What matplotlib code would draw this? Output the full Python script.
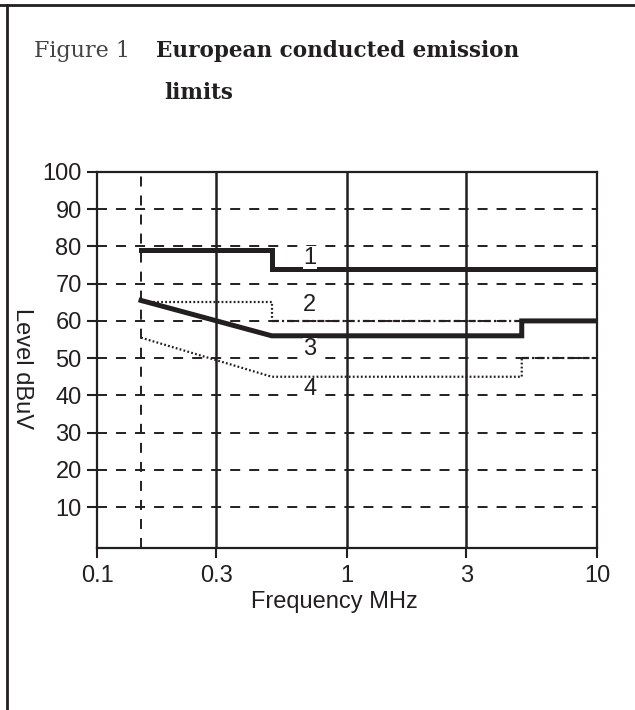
import matplotlib
matplotlib.use("Agg")
import matplotlib.pyplot as plt
from matplotlib.lines import Line2D

# limit lines (frequency in MHz, level in dBuV)
freq_1 = [0.15, 0.5, 0.5, 10]
level_1 = [79, 79, 74, 74]

freq_2_dot = [0.15, 0.5, 0.5]
level_2_dot = [65, 65, 60]
freq_2_dashdot = [0.5, 10]
level_2_dashdot = [60, 60]

freq_3 = [0.15, 0.5, 5, 5, 10]
level_3 = [65.5, 56, 56, 60, 60]

freq_4_dot = [0.15, 0.5, 5, 5]
level_4_dot = [55.5, 45, 45, 50]
freq_4_dashdot = [5, 10]
level_4_dashdot = [50, 50]

# curve numbers and where they sit
label_text = ["1", "2", "3", "4"]
label_freq = [0.71, 0.71, 0.71, 0.71]
label_level = [77, 64.4, 52.4, 41.6]

x_ticks = [0.1, 0.3, 1, 3, 10]
x_tick_labels = ["0.1", "0.3", "1", "3", "10"]
y_ticks = [10, 20, 30, 40, 50, 60, 70, 80, 90, 100]
grid_levels = [10, 20, 30, 40, 50, 60, 70, 80, 90]
grid_freq_solid = [0.3, 1, 3]
grid_freq_dashed = [0.15]

INK = "#231f20"
FS = 17
plt.rcParams["lines.scale_dashes"] = False
plt.rcParams["font.family"] = ["Liberation Sans", "DejaVu Sans"]

fig = plt.figure(figsize=(6.35, 7.1), dpi=100)
ax = fig.add_axes([97 / 635, 1 - 548 / 710, 500 / 635, 376 / 710])

dash = (0, (7.2, 6.5))
for y in grid_levels:
    ax.axhline(y, color=INK, lw=1.4, linestyle=dash, zorder=1)
for x in grid_freq_solid:
    ax.axvline(x, color=INK, lw=1.8, zorder=1)
for x in grid_freq_dashed:
    ax.axvline(x, color=INK, lw=1.4, linestyle=dash, zorder=1)

dotted = (0, (1.3, 1.6))
dashdot = (0, (5, 2.2, 1.5, 2.2))
ax.plot(freq_1, level_1, color=INK, lw=3.6, solid_joinstyle="miter", zorder=3)
ax.plot(freq_2_dot, level_2_dot, color=INK, lw=1.6, linestyle=dotted, zorder=2)
ax.plot(freq_2_dashdot, level_2_dashdot, color=INK, lw=1.6, linestyle=dashdot, zorder=2)
ax.plot(freq_3, level_3, color=INK, lw=3.6, solid_joinstyle="miter", zorder=3)
ax.plot(freq_4_dot, level_4_dot, color=INK, lw=1.6, linestyle=dotted, zorder=2)
ax.plot(freq_4_dashdot, level_4_dashdot, color=INK, lw=1.6, linestyle=dashdot, zorder=2)

for t, fx, ly in zip(label_text, label_freq, label_level):
    ax.text(fx, ly, t, fontsize=FS, color=INK, ha="center", va="center", zorder=4,
            bbox=dict(facecolor="white", edgecolor="none", pad=0.3))

ax.set_xscale("log")
ax.set_xlim(0.1, 10)
ax.set_ylim(-1, 100)
ax.set_xticks(x_ticks)
ax.set_xticklabels(x_tick_labels)
ax.xaxis.set_minor_locator(matplotlib.ticker.NullLocator())
ax.set_yticks(y_ticks)
ax.tick_params(axis="both", direction="out", length=7, width=1.5, color=INK,
               labelsize=FS, labelcolor=INK)
ax.tick_params(axis="x", pad=5)
ax.tick_params(axis="y", pad=4)
for s in ax.spines.values():
    s.set_color(INK)
    s.set_linewidth(1.6)

fig.text(334 / 635, 1 - 602 / 710, "Frequency MHz", fontsize=FS, color=INK,
         ha="center", va="center")
fig.text(22 / 635, 1 - 368 / 710, "Level dBuV", rotation=-90, fontsize=FS, color=INK,
         ha="center", va="center")

# title block
fig.text(34 / 635, 1 - 57 / 710, "Figure 1", family="DejaVu Serif", fontsize=16,
         color="#444444", va="baseline")
fig.text(156 / 635, 1 - 57 / 710, "European conducted emission", family="DejaVu Serif",
         fontsize=15.5, fontweight="bold", color=INK, va="baseline")
fig.text(164 / 635, 1 - 99 / 710, "limits", family="DejaVu Serif",
         fontsize=15.5, fontweight="bold", color=INK, va="baseline")

# frame on top and left
fig.add_artist(Line2D([0, 1], [1 - 5 / 710, 1 - 5 / 710], color=INK, lw=2,
                      transform=fig.transFigure))
fig.add_artist(Line2D([7 / 635, 7 / 635], [0, 1 - 5 / 710], color=INK, lw=2,
                      transform=fig.transFigure))

fig.savefig("out.png", dpi=100)
